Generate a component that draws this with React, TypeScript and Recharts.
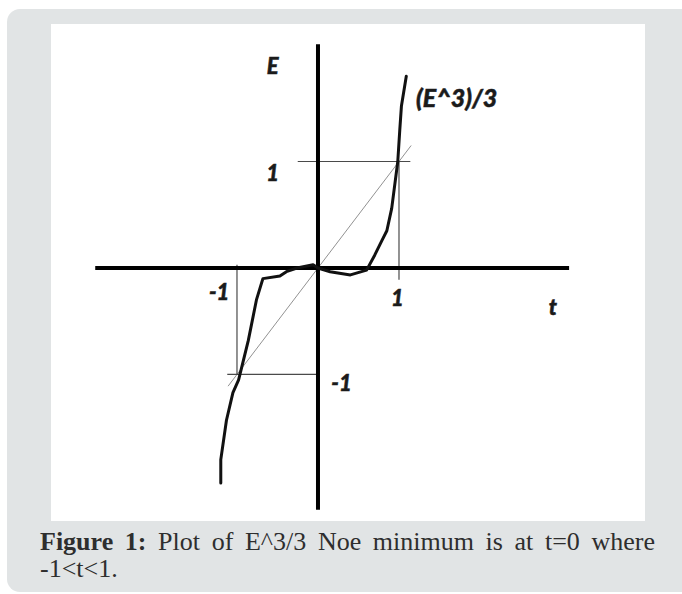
import React from "react"
import { ComposedChart, Line, Scatter, XAxis, YAxis } from "recharts"

// hand-drawn curve (E^3)/3
const curveT = [-1.2, -1.2, -1.13, -1.05, -0.98, -0.86, -0.76, -0.68, -0.47, -0.39, -0.26, -0.06, 0, 0.15, 0.4, 0.6, 0.7, 0.79, 0.85, 0.91, 0.985, 1.01, 1.03, 1.09]
const curveE = [-2.02, -1.8, -1.43, -1.17, -1.05, -0.68, -0.3, -0.1, -0.075, -0.035, 0, 0.03, 0, -0.035, -0.065, -0.02, 0.12, 0.26, 0.35, 0.56, 1.0, 1.3, 1.52, 1.8]

// axes (t from left to right end, E from top to bottom end)
const tAxisRange = [-2.75, 3.1]
const eAxisRange = [2.1, -2.27]

// thin guide lines to the unit points
const guideSegments = [
    [[-0.25, 1], [1.14, 1]],
    [[1, 1], [1, -0.11]],
    [[-1.12, -1], [0, -1]],
    [[-1, 0.03], [-1, -1]],
]
const diagonalT = [-1.11, 1.15]

// text labels
const axisLabelText = ["E", "1", "-1", "1", "t", "-1"]
const axisLabelT = [-0.56, -0.56, -1.22, 0.98, 2.9, 0.29]
const axisLabelE = [1.9, 0.9, -0.22, -0.28, -0.36, -1.08]
const curveLabel = { text: "(E^3)/3", t: 1.21, E: 1.61 }

const curveData = curveT.map((t, i) => ({ t, E: curveE[i] }))
const axisLabels = axisLabelText.map((text, i) => ({ text, t: axisLabelT[i], E: axisLabelE[i] }))

const LABEL_FONT = "Lato, 'Open Sans', sans-serif"

function CenterText(props: any) {
    const { cx, cy, payload } = props
    return (
        <text x={cx} y={cy} textAnchor="middle" dominantBaseline="central"
            fontFamily={LABEL_FONT} fontWeight={900} fontStyle="italic" fontSize={22}
            fill="#1b1b1b" stroke="#1b1b1b" strokeWidth={0.5}>
            {payload.text}
        </text>
    )
}

function StartText(props: any) {
    const { cx, cy, payload } = props
    return (
        <text x={cx} y={cy} textAnchor="start" dominantBaseline="central"
            fontFamily={LABEL_FONT} fontWeight={900} fontStyle="italic" fontSize={25}
            fill="#1b1b1b" stroke="#1b1b1b" strokeWidth={0.5}>
            {payload.text}
        </text>
    )
}

export default function App() {
    return (
        <div style={{ position: "absolute", left: 0, top: 0, width: 682, height: 594, background: "#fff", overflow: "hidden" }}>
            <div style={{ position: "absolute", left: 7, top: 9, width: 700, height: 583, background: "#e1e4e5", borderRadius: 13 }} />
            <div style={{ position: "absolute", left: 51, top: 24, width: 594, height: 497, background: "#fff" }}>
                <ComposedChart width={594} height={497} margin={{ top: 0, right: 0, bottom: 0, left: 0 }}>
                    <XAxis type="number" dataKey="t" domain={[-3.296, 4.037]} allowDataOverflow hide />
                    <YAxis type="number" dataKey="E" domain={[-2.376, 2.291]} allowDataOverflow hide />
                    <Line data={diagonalT.map((t) => ({ t, E: t }))} dataKey="E" type="linear"
                        stroke="#929292" strokeWidth={1} dot={false} activeDot={false} isAnimationActive={false} />
                    {guideSegments.map((seg, i) => (
                        <Line key={i} data={seg.map(([t, E]) => ({ t, E }))} dataKey="E" type="linear"
                            stroke="#4a4a4a" strokeWidth={1.2} dot={false} activeDot={false} isAnimationActive={false} />
                    ))}
                    <Line data={tAxisRange.map((t) => ({ t, E: 0 }))} dataKey="E" type="linear"
                        stroke="#000" strokeWidth={4} dot={false} activeDot={false} isAnimationActive={false} />
                    <Line data={eAxisRange.map((E) => ({ t: 0, E }))} dataKey="E" type="linear"
                        stroke="#000" strokeWidth={4} dot={false} activeDot={false} isAnimationActive={false} />
                    <Line data={curveData} dataKey="E" type="linear" stroke="#111" strokeWidth={3}
                        strokeLinejoin="round" strokeLinecap="round" dot={false} activeDot={false} isAnimationActive={false} />
                    <Scatter data={axisLabels} dataKey="E" shape={CenterText} isAnimationActive={false} />
                    <Scatter data={[curveLabel]} dataKey="E" shape={StartText} isAnimationActive={false} />
                </ComposedChart>
            </div>
            <div style={{ position: "absolute", left: 40, top: 528, width: 615, fontFamily: "'Liberation Serif', serif", fontSize: 26, lineHeight: "27px", color: "#2e2e2e" }}>
                <div style={{ textAlign: "justify", textAlignLast: "justify" }}>
                    <b>Figure 1:</b> Plot of E^3/3 Noe minimum is at t=0 where
                </div>
                <div>-1&lt;t&lt;1.</div>
            </div>
        </div>
    )
}
